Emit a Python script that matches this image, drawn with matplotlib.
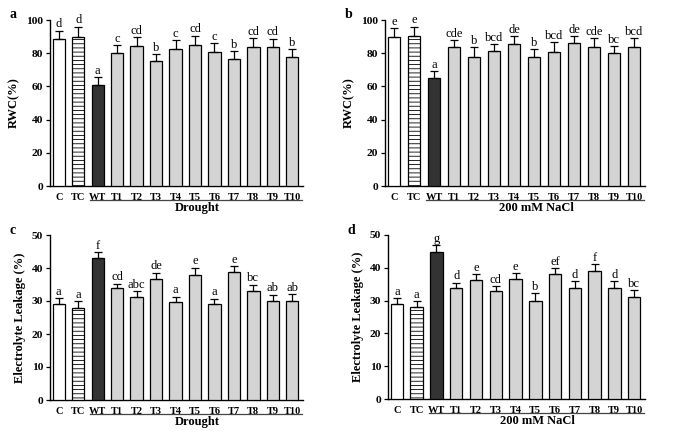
import matplotlib
matplotlib.use("Agg")
import matplotlib.pyplot as plt
from matplotlib.transforms import blended_transform_factory

plt.rcParams["font.family"] = ["Liberation Serif", "DejaVu Serif"]
plt.rcParams["hatch.linewidth"] = 0.6
plt.rcParams["hatch.color"] = "#222222"

categories = ["C", "TC", "WT", "T1", "T2", "T3", "T4", "T5", "T6", "T7", "T8", "T9", "T10"]

rwc_drought = [88.5, 90, 61, 80, 84.5, 75.5, 82.3, 85, 80.7, 76.5, 84, 84, 78]
rwc_drought_err = [5, 6, 4.4, 4.7, 5, 4, 5.4, 5.5, 5.3, 4.6, 5, 4.7, 4.5]
rwc_drought_sig = ["d", "d", "a", "c", "cd", "b", "c", "cd", "c", "b", "cd", "cd", "b"]

rwc_salt = [89.5, 90.5, 65, 83.5, 78, 81.3, 85.7, 78, 81, 86.3, 84, 80, 84]
rwc_salt_err = [5.5, 5.5, 4.2, 4.2, 5.7, 4, 4.6, 4.5, 5.5, 4, 5, 4.3, 5]
rwc_salt_sig = ["e", "e", "a", "cde", "b", "bcd", "de", "b", "bcd", "de", "cde", "bc", "bcd"]

el_drought = [29, 28, 42.9, 33.8, 31.2, 36.6, 29.6, 37.9, 29, 38.9, 33, 30, 30.1]
el_drought_err = [1.8, 1.9, 1.9, 1.5, 1.8, 2, 1.7, 2.2, 1.7, 1.7, 2, 1.9, 2]
el_drought_sig = ["a", "a", "f", "cd", "abc", "de", "a", "e", "a", "e", "bc", "ab", "ab"]

el_salt = [28.9, 28, 44.7, 33.7, 36.3, 32.8, 36.6, 29.9, 38.1, 33.9, 39.1, 33.9, 31]
el_salt_err = [1.9, 1.9, 2.2, 1.8, 1.8, 1.7, 1.7, 2.3, 1.7, 2, 2, 2, 2.1]
el_salt_sig = ["a", "a", "g", "d", "e", "cd", "e", "b", "ef", "d", "f", "d", "bc"]

W, H = 677, 440


def panel(rect, vals, errs, sig, ymax, ystep, ylabel, group, tag):
    l, t, r, b = rect
    ax = fig.add_axes([l / W, 1 - b / H, (r - l) / W, (b - t) / H])
    x = list(range(len(categories)))
    colors = ["white", "white", "#333333"] + ["#d4d4d4"] * 10
    bars = ax.bar(x, vals, width=0.63, color=colors, edgecolor="black", lw=0.9, zorder=3)
    bars[1].set_hatch("----")
    ax.errorbar(x, vals, yerr=[[0] * len(vals), errs], fmt="none", ecolor="black",
                elinewidth=0.9, capsize=3, capthick=0.9, zorder=4)
    for xi, v, e, s in zip(x, vals, errs, sig):
        ax.text(xi, v + e + ymax * 0.002, s, ha="center", va="bottom", fontsize=9)
    ax.set_xlim(-0.45, 12.55)
    ax.set_ylim(0, ymax)
    ax.set_yticks(range(0, ymax + 1, ystep))
    ax.set_xticks(x)
    ax.set_xticklabels(categories, fontweight="bold", fontsize=7.5)
    for lab in ax.get_yticklabels():
        lab.set_fontweight("bold")
        lab.set_fontsize(8.2)
    ax.tick_params(axis="y", direction="out", length=3, width=0.9, pad=2)
    ax.tick_params(axis="x", length=0, pad=5)
    for s in ("top", "right"):
        ax.spines[s].set_visible(False)
    for s in ("left", "bottom"):
        ax.spines[s].set_linewidth(1.0)
    ax.set_ylabel(ylabel, fontweight="bold", fontsize=9, labelpad=4)
    tr = blended_transform_factory(ax.transData, ax.transAxes)
    ax.plot([1.62, 12.5], [-0.085, -0.085], color="#444444", lw=0.9,
            transform=tr, clip_on=False)
    ax.text(7.1, -0.095, group, transform=tr, ha="center", va="top",
            fontweight="bold", fontsize=9)
    fig.text((l - 40) / W, 1 - (t - 5) / H, tag, fontweight="bold", fontsize=10,
             ha="left", va="center")
    return ax


fig = plt.figure(figsize=(W / 100, H / 100), dpi=100)
panel((50, 20, 303, 186), rwc_drought, rwc_drought_err, rwc_drought_sig, 100, 20,
      "RWC(%)", "Drought", "a")
panel((385, 20, 645, 186), rwc_salt, rwc_salt_err, rwc_salt_sig, 100, 20,
      "RWC(%)", "200 mM NaCl", "b")
panel((50, 235, 303, 400), el_drought, el_drought_err, el_drought_sig, 50, 10,
      "Electrolyte Leakage (%)", "Drought", "c")
panel((388, 235, 645, 399), el_salt, el_salt_err, el_salt_sig, 50, 10,
      "Electrolyte Leakage (%)", "200 mM NaCl", "d")
fig.savefig("out.png", dpi=100)
